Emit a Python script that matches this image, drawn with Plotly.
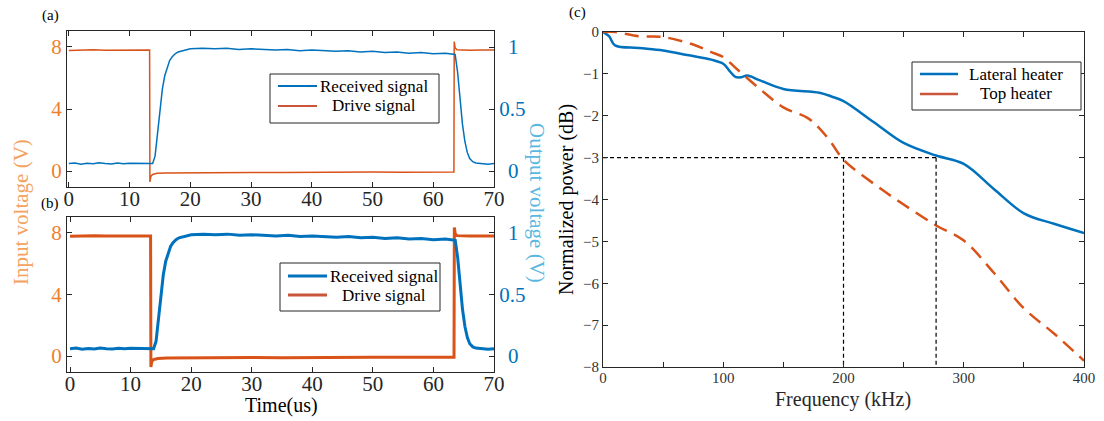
import plotly.graph_objects as go

# ---------------- data ----------------
t_drive = [0, 2, 4, 6, 8, 10, 12, 13.3, 13.35, 13.5, 13.8, 14.5, 16, 20, 25, 30, 35, 40, 45, 50,
           55, 60, 63.4, 63.45, 63.6, 63.9, 64.5, 66, 68, 70]
v_drive = [7.78, 7.8, 7.82, 7.79, 7.8, 7.81, 7.79, 7.8, -0.7, -0.35, -0.22, -0.15, -0.12, -0.1, -0.1,
           -0.09, -0.1, -0.08, -0.09, -0.07, -0.08, -0.07, -0.07, 8.35, 7.95, 7.82, 7.8, 7.79, 7.8, 7.8]

t_recv = [0, 1, 2, 3, 4, 5, 6, 7, 8, 9, 10, 11, 12, 13, 13.8,
          14.2, 14.6, 15, 15.4, 15.8, 16.2, 16.6, 17, 17.5, 18, 19, 20,
          22, 24, 26, 28, 30, 32, 34, 36, 38, 40, 42, 44, 46, 48, 50, 52, 54, 56, 58, 60, 62, 63.6,
          64, 64.4, 64.8, 65.2, 65.6, 66, 66.5, 67, 68, 69, 70]
v_recv = [0.06, 0.065, 0.055, 0.062, 0.058, 0.066, 0.06, 0.057, 0.064, 0.059, 0.063, 0.061, 0.058, 0.062, 0.06,
          0.12, 0.3, 0.5, 0.66, 0.77, 0.84, 0.89, 0.92, 0.945, 0.96, 0.975, 0.985,
          0.99, 0.985, 0.99, 0.98, 0.985, 0.98, 0.975, 0.98, 0.97, 0.975, 0.97, 0.965, 0.97, 0.96, 0.965,
          0.955, 0.96, 0.95, 0.955, 0.945, 0.95, 0.94,
          0.8, 0.58, 0.38, 0.24, 0.15, 0.1, 0.075, 0.065, 0.06, 0.055, 0.06]

f_lat = [0, 5, 10, 30, 50, 70, 90, 100, 105, 110, 115, 120, 130, 150, 180, 190, 200, 225, 250, 277,
         300, 325, 350, 375, 400]
p_lat = [0, -0.1, -0.32, -0.38, -0.44, -0.55, -0.66, -0.76, -0.92, -1.07, -1.08, -1.04, -1.15, -1.36,
         -1.45, -1.54, -1.65, -2.15, -2.65, -2.95, -3.15, -3.75, -4.33, -4.58, -4.8]

f_top = [0, 10, 30, 50, 75, 90, 100, 110, 130, 150, 170, 180, 190, 200, 225, 250, 277, 300, 325,
         350, 375, 400]
p_top = [0, 0.0, -0.1, -0.12, -0.3, -0.48, -0.6, -0.85, -1.35, -1.8, -2.05, -2.3, -2.65, -3.05, -3.62,
         -4.12, -4.62, -4.98, -5.75, -6.6, -7.2, -7.85]

f_ref = [200, 277]
p_ref = -3

legend_ab = ['Received signal', 'Drive signal']
legend_c = ['Lateral heater', 'Top heater']

C_RECV = '#0072BD'
C_DRIVE = '#D95319'
FONT = 'Liberation Serif'
AX = '#262626'

W, H = 1104, 421


def px_x(p):
    return p / W


def px_y(p):
    return 1 - p / H


fig = go.Figure()

fig.add_trace(go.Scatter(x=t_recv, y=v_recv, mode='lines', name=legend_ab[0], showlegend=False,
                         line=dict(color=C_RECV, width=1.5), xaxis='x', yaxis='y2'))
fig.add_trace(go.Scatter(x=t_drive, y=v_drive, mode='lines', name=legend_ab[1], showlegend=False,
                         line=dict(color=C_DRIVE, width=1.5), xaxis='x', yaxis='y'))
fig.add_trace(go.Scatter(x=t_recv, y=v_recv, mode='lines', name=legend_ab[0], showlegend=False,
                         line=dict(color=C_RECV, width=3), xaxis='x2', yaxis='y4'))
fig.add_trace(go.Scatter(x=t_drive, y=v_drive, mode='lines', name=legend_ab[1], showlegend=False,
                         line=dict(color=C_DRIVE, width=3), xaxis='x2', yaxis='y3'))
fig.add_trace(go.Scatter(x=f_lat, y=p_lat, mode='lines', name=legend_c[0], line_shape='spline',
                         showlegend=False, line=dict(color=C_RECV, width=2.5), xaxis='x3', yaxis='y5'))
fig.add_trace(go.Scatter(x=f_top, y=p_top, mode='lines', name=legend_c[1], line_shape='spline',
                         showlegend=False, line=dict(color=C_DRIVE, width=2.5, dash='14px,8px'),
                         xaxis='x3', yaxis='y5'))
fig.add_trace(go.Scatter(x=[0, f_ref[1]], y=[p_ref, p_ref], mode='lines', showlegend=False,
                         line=dict(color='black', width=1.2, dash='4px,3px'), xaxis='x3', yaxis='y5'))
for fr in f_ref:
    fig.add_trace(go.Scatter(x=[fr, fr], y=[p_ref, -8], mode='lines', showlegend=False,
                             line=dict(color='black', width=1.2, dash='4px,3px'), xaxis='x3', yaxis='y5'))

ax_common = dict(showline=True, linecolor=AX, linewidth=1, ticks='inside', ticklen=5,
                 tickcolor=AX, showgrid=False, zeroline=False, automargin=False)

left_range = [-1.03, 9.03]
right_range = [-0.129, 1.129]

dom_x_ab = [px_x(67), px_x(494)]
dom_y_a = [px_y(187), px_y(31)]
dom_y_b = [px_y(372), px_y(217)]

tf_x = dict(family=FONT, size=21, color=AX)
tf_l = dict(family=FONT, size=21, color='#EE7F2D')
tf_r = dict(family=FONT, size=21, color=C_RECV)
tf_c = dict(family=FONT, size=15, color='#333333')

pad1 = '\u00a0\u2006'
right_text = [pad1 + '0', '0.5', pad1 + '1']

fig.update_layout(
    width=W, height=H, margin=dict(l=0, r=0, t=0, b=0, pad=0, autoexpand=False),
    paper_bgcolor='white', plot_bgcolor='white', showlegend=False,
    font=dict(family=FONT, color='black'),
    xaxis=dict(domain=dom_x_ab, range=[-0.3, 70], anchor='y', tickvals=[0, 10, 20, 30, 40, 50, 60, 70],
               mirror='ticks', tickfont=tf_x, ticklabelstandoff=-7, **ax_common),
    yaxis=dict(domain=dom_y_a, range=left_range, anchor='x', tickvals=[0, 4, 8], mirror=True,
               tickfont=tf_l, **ax_common),
    yaxis2=dict(range=right_range, overlaying='y', side='right', anchor='x', tickvals=[0, 0.5, 1],
                ticktext=right_text, tickfont=tf_r, **ax_common),
    xaxis2=dict(domain=dom_x_ab, range=[-0.5, 70], anchor='y3', tickvals=[0, 10, 20, 30, 40, 50, 60, 70],
                mirror='ticks', tickfont=tf_x, ticklabelstandoff=-7, **ax_common),
    yaxis3=dict(domain=dom_y_b, range=left_range, anchor='x2', tickvals=[0, 4, 8], mirror=True,
                tickfont=tf_l, **ax_common),
    yaxis4=dict(range=right_range, overlaying='y3', side='right', anchor='x2', tickvals=[0, 0.5, 1],
                ticktext=right_text, tickfont=tf_r, **ax_common),
    xaxis3=dict(domain=[px_x(603), px_x(1084)], range=[0, 400], anchor='y5',
                tickvals=[0, 50, 100, 150, 200, 250, 300, 350, 400],
                ticktext=['0', '', '100', '', '200', '', '300', '', '400'],
                mirror='ticks', tickfont=tf_c, ticklabelstandoff=-3, **ax_common),
    yaxis5=dict(domain=[px_y(367), px_y(32)], range=[-8, 0], anchor='x3',
                tickvals=[0, -1, -2, -3, -4, -5, -6, -7, -8], mirror='ticks',
                tickfont=tf_c, **ax_common),
)

# ---- manual legends (box, sample lines, centred labels) ----
shapes = []
annotations = []


def add_legend(box, line_x, line_ys, line_styles, text_cx, labels):
    x0, x1, y0, y1 = box
    shapes.append(dict(type='rect', xref='paper', yref='paper', x0=px_x(x0), x1=px_x(x1),
                       y0=px_y(y1), y1=px_y(y0), line=dict(color=AX, width=1), fillcolor='white',
                       layer='above'))
    for ly, st, lab in zip(line_ys, line_styles, labels):
        shapes.append(dict(type='line', xref='paper', yref='paper', x0=px_x(line_x[0]), x1=px_x(line_x[1]),
                           y0=px_y(ly), y1=px_y(ly), line=st, layer='above'))
        annotations.append(dict(text=lab, x=px_x(text_cx), y=px_y(ly), font=dict(size=17)))


add_legend((270, 439, 74, 123), (278, 317), (86, 106),
           [dict(color=C_RECV, width=2), dict(color='#C9553A', width=2)], 374, legend_ab)
add_legend((280, 440, 263, 311), (288, 327), (276, 295),
           [dict(color=C_RECV, width=3), dict(color='#C9553A', width=3)], 384, legend_ab)
add_legend((912, 1081, 62, 110), (920, 958), (74, 94),
           [dict(color=C_RECV, width=2.5), dict(color='#C9553A', width=2.5)], 1016, legend_c)

annotations += [
    dict(text='(a)', x=px_x(50), y=px_y(15), font=dict(size=15)),
    dict(text='(b)', x=px_x(50), y=px_y(203), font=dict(size=15)),
    dict(text='(c)', x=px_x(577), y=px_y(13), font=dict(size=15)),
    dict(text='Input voltage (V)', x=px_x(21), y=px_y(212), textangle=-90,
         font=dict(size=21, color='#F3A260')),
    dict(text='Output voltage (V)', x=px_x(537), y=px_y(203), textangle=90,
         font=dict(size=21, color='#5AB7E0')),
    dict(text='Time(us)', x=px_x(281), y=px_y(405), font=dict(size=20, color='black')),
    dict(text='Frequency (kHz)', x=px_x(843), y=px_y(399), font=dict(size=20, color='#262626')),
    dict(text='Normalized power (dB)', x=px_x(566), y=px_y(199), textangle=-90,
         font=dict(size=20, color='black')),
]
for a in annotations:
    a.update(xref='paper', yref='paper', showarrow=False, xanchor='center', yanchor='middle')
    a['font'].setdefault('family', FONT)
    a['font'].setdefault('color', 'black')
fig.update_layout(annotations=annotations, shapes=shapes)

fig.write_html('out.html')
